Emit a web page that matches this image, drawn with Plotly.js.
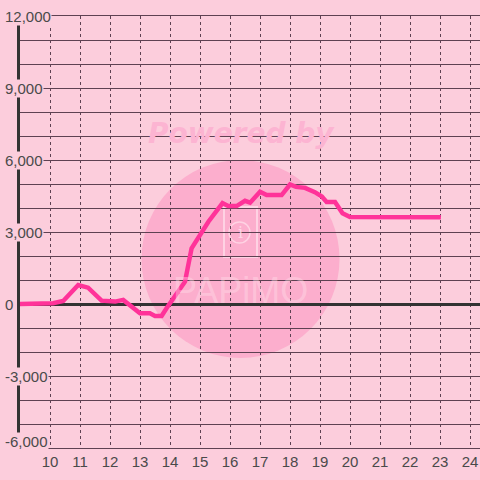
<!DOCTYPE html>
<html>
<head>
<meta charset="utf-8">
<script src="https://cdn.plot.ly/plotly-3.0.1.min.js"></script>
<style>html,body{margin:0;padding:0;background:#fccddc;}#chart{width:480px;height:480px;}</style>
</head>
<body>
<div id="chart"></div>
<script>
// Data (hour of day, value)
const hours = [9.0, 10.1, 10.44, 10.94, 11.27, 11.72, 12.17, 12.44, 13.0, 13.33, 13.5, 13.72, 13.89, 14.5, 14.72, 15.28, 15.75, 15.94, 16.22, 16.5, 16.67, 17.0, 17.22, 17.72, 18.0, 18.2, 18.5, 18.83, 19.06, 19.22, 19.5, 19.75, 20.0, 23.03];
const values = [0, 30, 125, 790, 680, 140, 100, 170, -390, -390, -500, -500, -170, 930, 2320, 3430, 4200, 4080, 4080, 4300, 4220, 4680, 4540, 4540, 4980, 4880, 4840, 4660, 4480, 4250, 4250, 3780, 3620, 3610];
const xTickVals = [10, 11, 12, 13, 14, 15, 16, 17, 18, 19, 20, 21, 22, 23, 24];
const yTickVals = [12000, 9000, 6000, 3000, 0, -3000, -6000];
const yTickText = ['12,000', '9,000', '6,000', '3,000', '0', '-3,000', '-6,000'];

const BG = '#fccddc';
const GRID = '#5e4152';
const LABEL = '#4a4a4a';

const yLabelAnn = yTickVals.map((v, i) => ({
  xref: 'paper', yref: 'y',
  x: -0.034, xanchor: 'left',
  y: (v === -6000 ? -5720 : v), yanchor: 'middle',
  text: yTickText[i], showarrow: false,
  bgcolor: BG, borderpad: 0,
  font: {family: 'Liberation Sans, Arial, sans-serif', size: 15, color: LABEL}
}));

const trace = {
  x: hours, y: values, type: 'scatter', mode: 'lines',
  line: {color: '#ff3399', width: 4.5, shape: 'linear'},
  hoverinfo: 'skip'
};

const layout = {
  width: 480, height: 480,
  margin: {l: 20, r: 0, t: 16, b: 32, pad: 0},
  paper_bgcolor: BG, plot_bgcolor: BG,
  showlegend: false,
  xaxis: {
    range: [9, 24.333], tickvals: xTickVals, ticktext: xTickVals.map(String),
    showgrid: true, gridcolor: GRID, gridwidth: 1, griddash: 'dot',
    showline: true, linecolor: GRID, linewidth: 1, mirror: true,
    zeroline: false, ticks: '',
    tickfont: {family: 'Liberation Sans, Arial, sans-serif', size: 15, color: LABEL}
  },
  yaxis: {
    range: [-6000, 12000], dtick: 1000, tick0: 0,
    showgrid: true, gridcolor: GRID, gridwidth: 1,
    showticklabels: false, ticks: '',
    showline: true, linecolor: '#333333', linewidth: 3,
    zeroline: true, zerolinecolor: '#333333', zerolinewidth: 3
  },
  shapes: [
    {type: 'circle', xref: 'paper', yref: 'paper', layer: 'below',
     x0: 0.2641, x1: 0.6946, y0: 0.2083, y1: 0.6667,
     fillcolor: '#fcaecd', line: {width: 0}},
    {type: 'rect', xref: 'paper', yref: 'paper', layer: 'below',
     x0: (224 - 20) / 460, x1: (257 - 20) / 460, y0: (448 - 257) / 432, y1: (448 - 207) / 432,
     fillcolor: 'rgba(0,0,0,0)', line: {color: 'rgba(255,222,234,0.75)', width: 2}},
    {type: 'circle', xref: 'paper', yref: 'paper', layer: 'below',
     x0: (229 - 20) / 460, x1: (250 - 20) / 460, y0: (448 - 243) / 432, y1: (448 - 222) / 432,
     fillcolor: 'rgba(0,0,0,0)', line: {color: 'rgba(255,222,234,0.75)', width: 1.5}}
  ],
  annotations: [
    {xref: 'paper', yref: 'paper', x: (241 - 20) / 460, y: (448 - 133) / 432,
     xanchor: 'center', yanchor: 'middle', showarrow: false,
     text: '<b><i>Powered by</i></b>',
     font: {family: 'DejaVu Sans, sans-serif', size: 28, color: '#fcb4d2'}},
    {xref: 'paper', yref: 'paper', x: (240 - 20) / 460, y: (448 - 232) / 432,
     xanchor: 'center', yanchor: 'middle', showarrow: false,
     text: 'i', font: {family: 'DejaVu Serif, serif', size: 16, color: 'rgba(255,222,234,0.85)'}},
    {xref: 'paper', yref: 'paper', x: (240 - 20) / 460, y: (448 - 290) / 432,
     xanchor: 'center', yanchor: 'middle', showarrow: false,
     text: 'PAPiMO', font: {family: 'Liberation Sans, Arial, sans-serif', size: 36, color: 'rgba(255,222,234,0.42)'}}
  ].concat(yLabelAnn)
};

Plotly.newPlot('chart', [trace], layout, {displayModeBar: false, staticPlot: true});
</script>
</body>
</html>
